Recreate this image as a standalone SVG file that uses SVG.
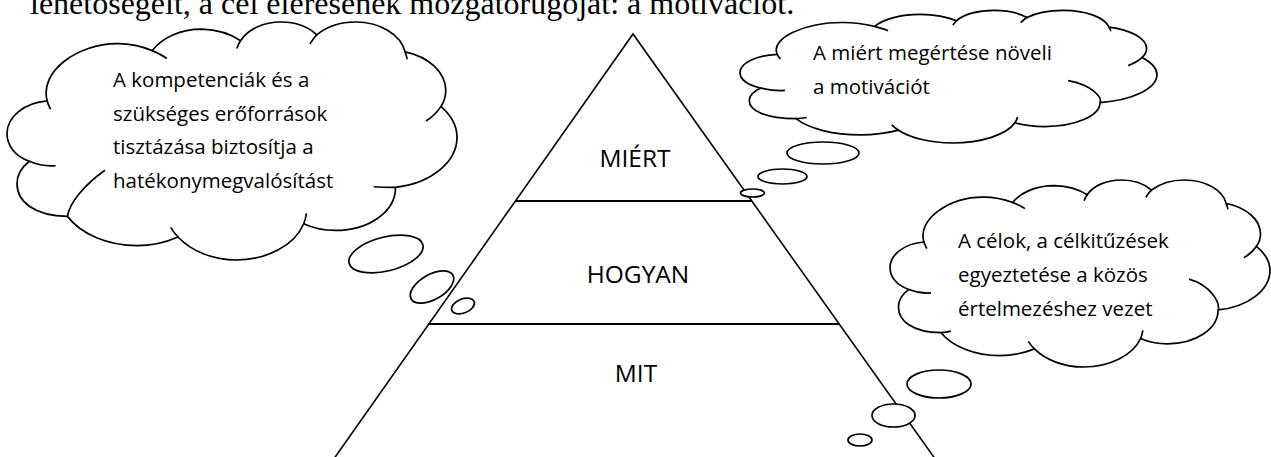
<svg xmlns="http://www.w3.org/2000/svg" xmlns:xlink="http://www.w3.org/1999/xlink" width="1271" height="457" viewBox="0 0 1271 457">
<style>
.ln{stroke:#000;stroke-width:1.6;fill:none}
.hl{stroke:#000;stroke-width:2;fill:none}
.cl{fill:#fff;stroke:#000;stroke-width:1.7;vector-effect:non-scaling-stroke}
.in{fill:none;stroke:#000;stroke-width:1.7;vector-effect:non-scaling-stroke}
.bub{fill:#fff;stroke:#000;stroke-width:1.7}
.t{font-family:'Open Sans',sans-serif;font-size:20.5px;fill:#000}
.lab{font-family:'Open Sans',sans-serif;font-size:24.5px;fill:#000;text-anchor:middle}
.top{font-family:'Liberation Serif',serif;font-size:32px;fill:#000}
</style>
<defs>
<path id="cloudOutline" class="cl" d="M1930,7160 C1530,4490 3400,1970 5270,1970 C5860,1950 6470,2210 6970,2600 C7450,1390 8340,650 9340,650 C10004,690 10710,1050 11210,1700 C11570,630 12330,0 13150,0 C13840,0 14470,460 14870,1160 C15330,440 16020,0 16740,0 C17910,0 18900,1130 19110,2710 C20240,3150 21060,4580 21060,6220 C21060,6720 21000,7200 20830,7660 C21310,8460 21600,9450 21600,10460 C21600,12750 20310,14680 18650,15010 C18650,17200 17370,18920 15770,18920 C15220,18920 14700,18710 14240,18310 C13820,20240 12490,21600 11000,21600 C9890,21600 8840,20790 8210,19510 C7620,20000 6930,20290 6240,20290 C4850,20290 3570,19280 2900,17640 C1300,17600 480,16300 480,14660 C480,13900 690,13210 1070,12640 C380,12160 0,11210 0,10120 C0,8590 840,7330 1930,7160 Z"/>
</defs>

<g id="pyramid">
<path class="ln" d="M334.5,458 L633,34 L934.5,458"/>
<line class="hl" x1="515.3" y1="201" x2="751.7" y2="201"/>
<line class="hl" x1="428.6" y1="324" x2="839.2" y2="324"/>
<text class="lab" x="635" y="167">MIÉRT</text>
<text class="lab" x="638" y="283">HOGYAN</text>
<text class="lab" x="636" y="382">MIT</text>
</g>

<g id="cloud-left">
<g transform="translate(7,22) scale(0.0208333,0.0110185)">
<use xlink:href="#cloudOutline" href="#cloudOutline"/>
<path class="in" d="M1930,7160 C1950,7410 2040,7690 2090,7920 M6970,2600 C7200,2790 7480,3050 7670,3310 M11210,1700 C11130,1910 11080,2160 11030,2400 M14870,1160 C14720,1400 14640,1720 14540,2010 M19110,2710 C19130,2890 19230,3290 19190,3380 M20830,7660 C20660,8170 20430,8620 20110,8990 M18650,15010 C18300,15020 17950,15000 17600,14950 M14240,18310 C14320,17980 14350,17680 14370,17360 M8220,19510 C8060,19250 7960,18950 7860,18640 M2900,17640 C3000,16400 3700,14800 4700,13450 M1070,12640 C1400,12900 1780,13130 2330,13040"/>
</g>
<text class="t" x="113" y="87">A kompetenciák és a</text>
<text class="t" x="113" y="121">szükséges erőforrások</text>
<text class="t" x="113" y="154">tisztázása biztosítja a</text>
<text class="t" x="113" y="188">hatékonymegvalósítást</text>
<ellipse class="bub" cx="386" cy="254" rx="38" ry="17" transform="rotate(-14 386 254)"/>
<ellipse class="bub" cx="432" cy="287" rx="24" ry="12.5" transform="rotate(-30 432 287)"/>
<ellipse class="bub" cx="463" cy="306" rx="12" ry="7" transform="rotate(-22 463 306)"/>
</g>

<g id="cloud-right-top">
<g transform="translate(740,10.4) scale(0.0193056,0.0061389)">
<use xlink:href="#cloudOutline" href="#cloudOutline"/>
<path class="in" d="M1930,7160 C1950,7410 2040,7690 2090,7920 M6970,2600 C7200,2790 7480,3050 7670,3310 M11210,1700 C11130,1910 11080,2160 11030,2400 M14870,1160 C14720,1400 14640,1720 14540,2010 M19110,2710 C19130,2890 19230,3290 19190,3380 M20830,7660 C20660,8170 20430,8620 20110,8990 M18660,14960 C18740,14200 18280,12200 17000,11450 M14240,18310 C14320,17980 14350,17680 14370,17360 M8220,19510 C8060,19250 7960,18950 7860,18640 M2900,17640 C3090,17600 3280,17540 3460,17450 M1070,12640 C1400,12900 1780,13130 2330,13040"/>
</g>
<text class="t" x="813" y="60">A miért megértése növeli</text>
<text class="t" x="813" y="94">a motivációt</text>
<ellipse class="bub" cx="823" cy="153" rx="36" ry="11"/>
<ellipse class="bub" cx="782.5" cy="176.5" rx="24.5" ry="7.5"/>
<ellipse class="bub" cx="752.5" cy="193" rx="12" ry="4"/>
</g>

<g id="cloud-right-bottom">
<g transform="translate(890,180) scale(0.0175926,0.0086574)">
<use xlink:href="#cloudOutline" href="#cloudOutline"/>
<path class="in" d="M1930,7160 C1950,7410 2040,7690 2090,7920 M6970,2600 C7200,2790 7480,3050 7670,3310 M11210,1700 C11130,1910 11080,2160 11030,2400 M14870,1160 C14720,1400 14640,1720 14540,2010 M19110,2710 C19130,2890 19230,3290 19190,3380 M20830,7660 C20660,8170 20430,8620 20110,8990 M18660,14960 C18740,14200 18280,12200 17000,11450 M14240,18310 C14320,17980 14350,17680 14370,17360 M8220,19510 C8060,19250 7960,18950 7860,18640 M2900,17640 C3090,17600 3280,17540 3460,17450 M1070,12640 C1400,12900 1780,13130 2330,13040"/>
</g>
<text class="t" x="958" y="248">A célok, a célkitűzések</text>
<text class="t" x="958" y="282">egyeztetése a közös</text>
<text class="t" x="958" y="316">értelmezéshez vezet</text>
<ellipse class="bub" cx="939" cy="384" rx="32" ry="14"/>
<ellipse class="bub" cx="893.5" cy="415.5" rx="21.5" ry="11.5"/>
<ellipse class="bub" cx="860" cy="440" rx="12" ry="6"/>
</g>

<text class="top" x="30" y="14">lehetőségeit, a cél elérésének mozgatórugóját: a motivációt.</text>
</svg>
